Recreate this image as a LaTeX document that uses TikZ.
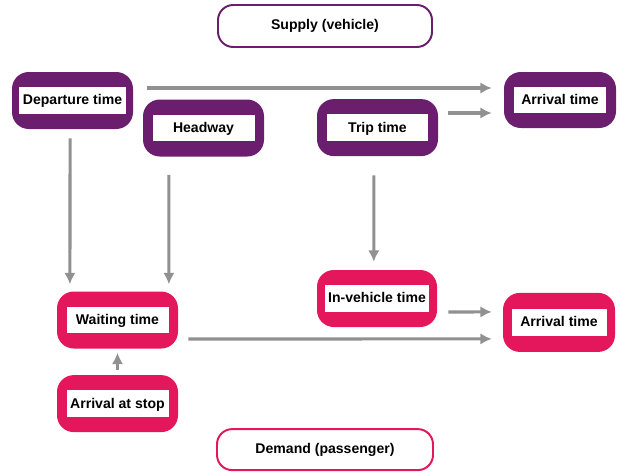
\documentclass[tikz,border=0pt]{standalone}
\usepackage{fontspec}
\setmainfont{Liberation Sans}
\usepackage{tikz}
\usetikzlibrary{arrows.meta,positioning}

\definecolor{suppurple}{RGB}{108,30,110}
\definecolor{dempink}{RGB}{228,22,92}
\definecolor{arrgray}{RGB}{145,145,145}

\newcommand{\wtext}[2]{{\fboxsep=0pt\colorbox{white}{\makebox[#1]{\rule[-0.22cm]{0pt}{0.66cm}#2}}}}

\begin{document}
\begin{tikzpicture}[font=\bfseries\fontsize{10}{12}\selectfont]
\tikzset{block/.style={rectangle,rounded corners=0.42cm,inner sep=0pt,minimum width=3.025cm,minimum height=1.425cm}}
\tikzset{sup/.style={block,fill=suppurple}}
\tikzset{dem/.style={block,fill=dempink}}
\tikzset{side/.style={rectangle,rounded corners=0.38cm,fill=white,line width=1.4pt,minimum width=5.35cm,minimum height=1.05cm}}
\tikzstyle{arr} = [->,>={Latex[length=8pt,width=8pt]},line width=2.2pt,arrgray]

\useasboundingbox (0,0) rectangle (15.425,-11.8);

\node [side, draw=suppurple] (supply) at (8.125,-0.65) {Supply (vehicle)};
\node [side, draw=dempink, minimum width=5.4cm, minimum height=1.025cm] (demand) at (8.125,-11.24) {Demand (passenger)};

\node [sup] (dep) at (1.8125,-2.5125) {\wtext{2.675cm}{Departure time}};
\node [sup] (head) at (5.0875,-3.2) {\wtext{2.55cm}{Headway}};
\node [sup] (trip) at (9.4375,-3.19) {\wtext{2.525cm}{Trip time}};
\node [sup, minimum width=2.8cm, minimum height=1.4cm] (arrT) at (14.0,-2.5) {\wtext{2.3cm}{Arrival time}};

\node [dem] (wait) at (2.9375,-8.0) {\wtext{2.55cm}{Waiting time}};
\node [dem] (stop) at (2.9375,-10.09) {\wtext{2.55cm}{Arrival at stop}};
\node [dem, minimum width=3cm] (inveh) at (9.425,-7.4625) {\wtext{2.6cm}{In-vehicle time}};
\node [dem, minimum width=2.8cm, minimum height=1.475cm] (arrB) at (13.975,-8.06) {\wtext{2.375cm}{Arrival time}};

\begin{scope}[arr]
\draw[shorten <=0.35cm, shorten >=0.3cm] ([yshift=0.3125cm]dep.east) -- ([yshift=0.3cm]arrT.west);
\draw[shorten <=0.25cm, shorten >=0.3cm] ([yshift=0.365cm]trip.east) -- ([yshift=-0.325cm]arrT.west);
\draw[shorten <=0.225cm, shorten >=0.175cm] ([xshift=-0.06cm]dep.south) -- ([xshift=-1.19cm]wait.north);
\draw[shorten <=0.45cm, shorten >=0.175cm] ([xshift=-0.865cm]head.south) -- ([xshift=1.285cm]wait.north);
\draw[shorten <=0.475cm, shorten >=0.2cm] ([xshift=-0.09cm]trip.south) -- ([xshift=-0.08cm]inveh.north);
\draw[shorten <=0.125cm, shorten >=0.1cm] (stop.north) -- (wait.south);
\draw[shorten <=0.275cm, shorten >=0.275cm] ([yshift=-0.3375cm]inveh.east) -- ([yshift=0.2625cm]arrB.west);
\draw[shorten <=0.25cm, shorten >=0.275cm] ([yshift=-0.475cm]wait.east) -- ([yshift=-0.4125cm]arrB.west);
\end{scope}
\end{tikzpicture}
\end{document}
